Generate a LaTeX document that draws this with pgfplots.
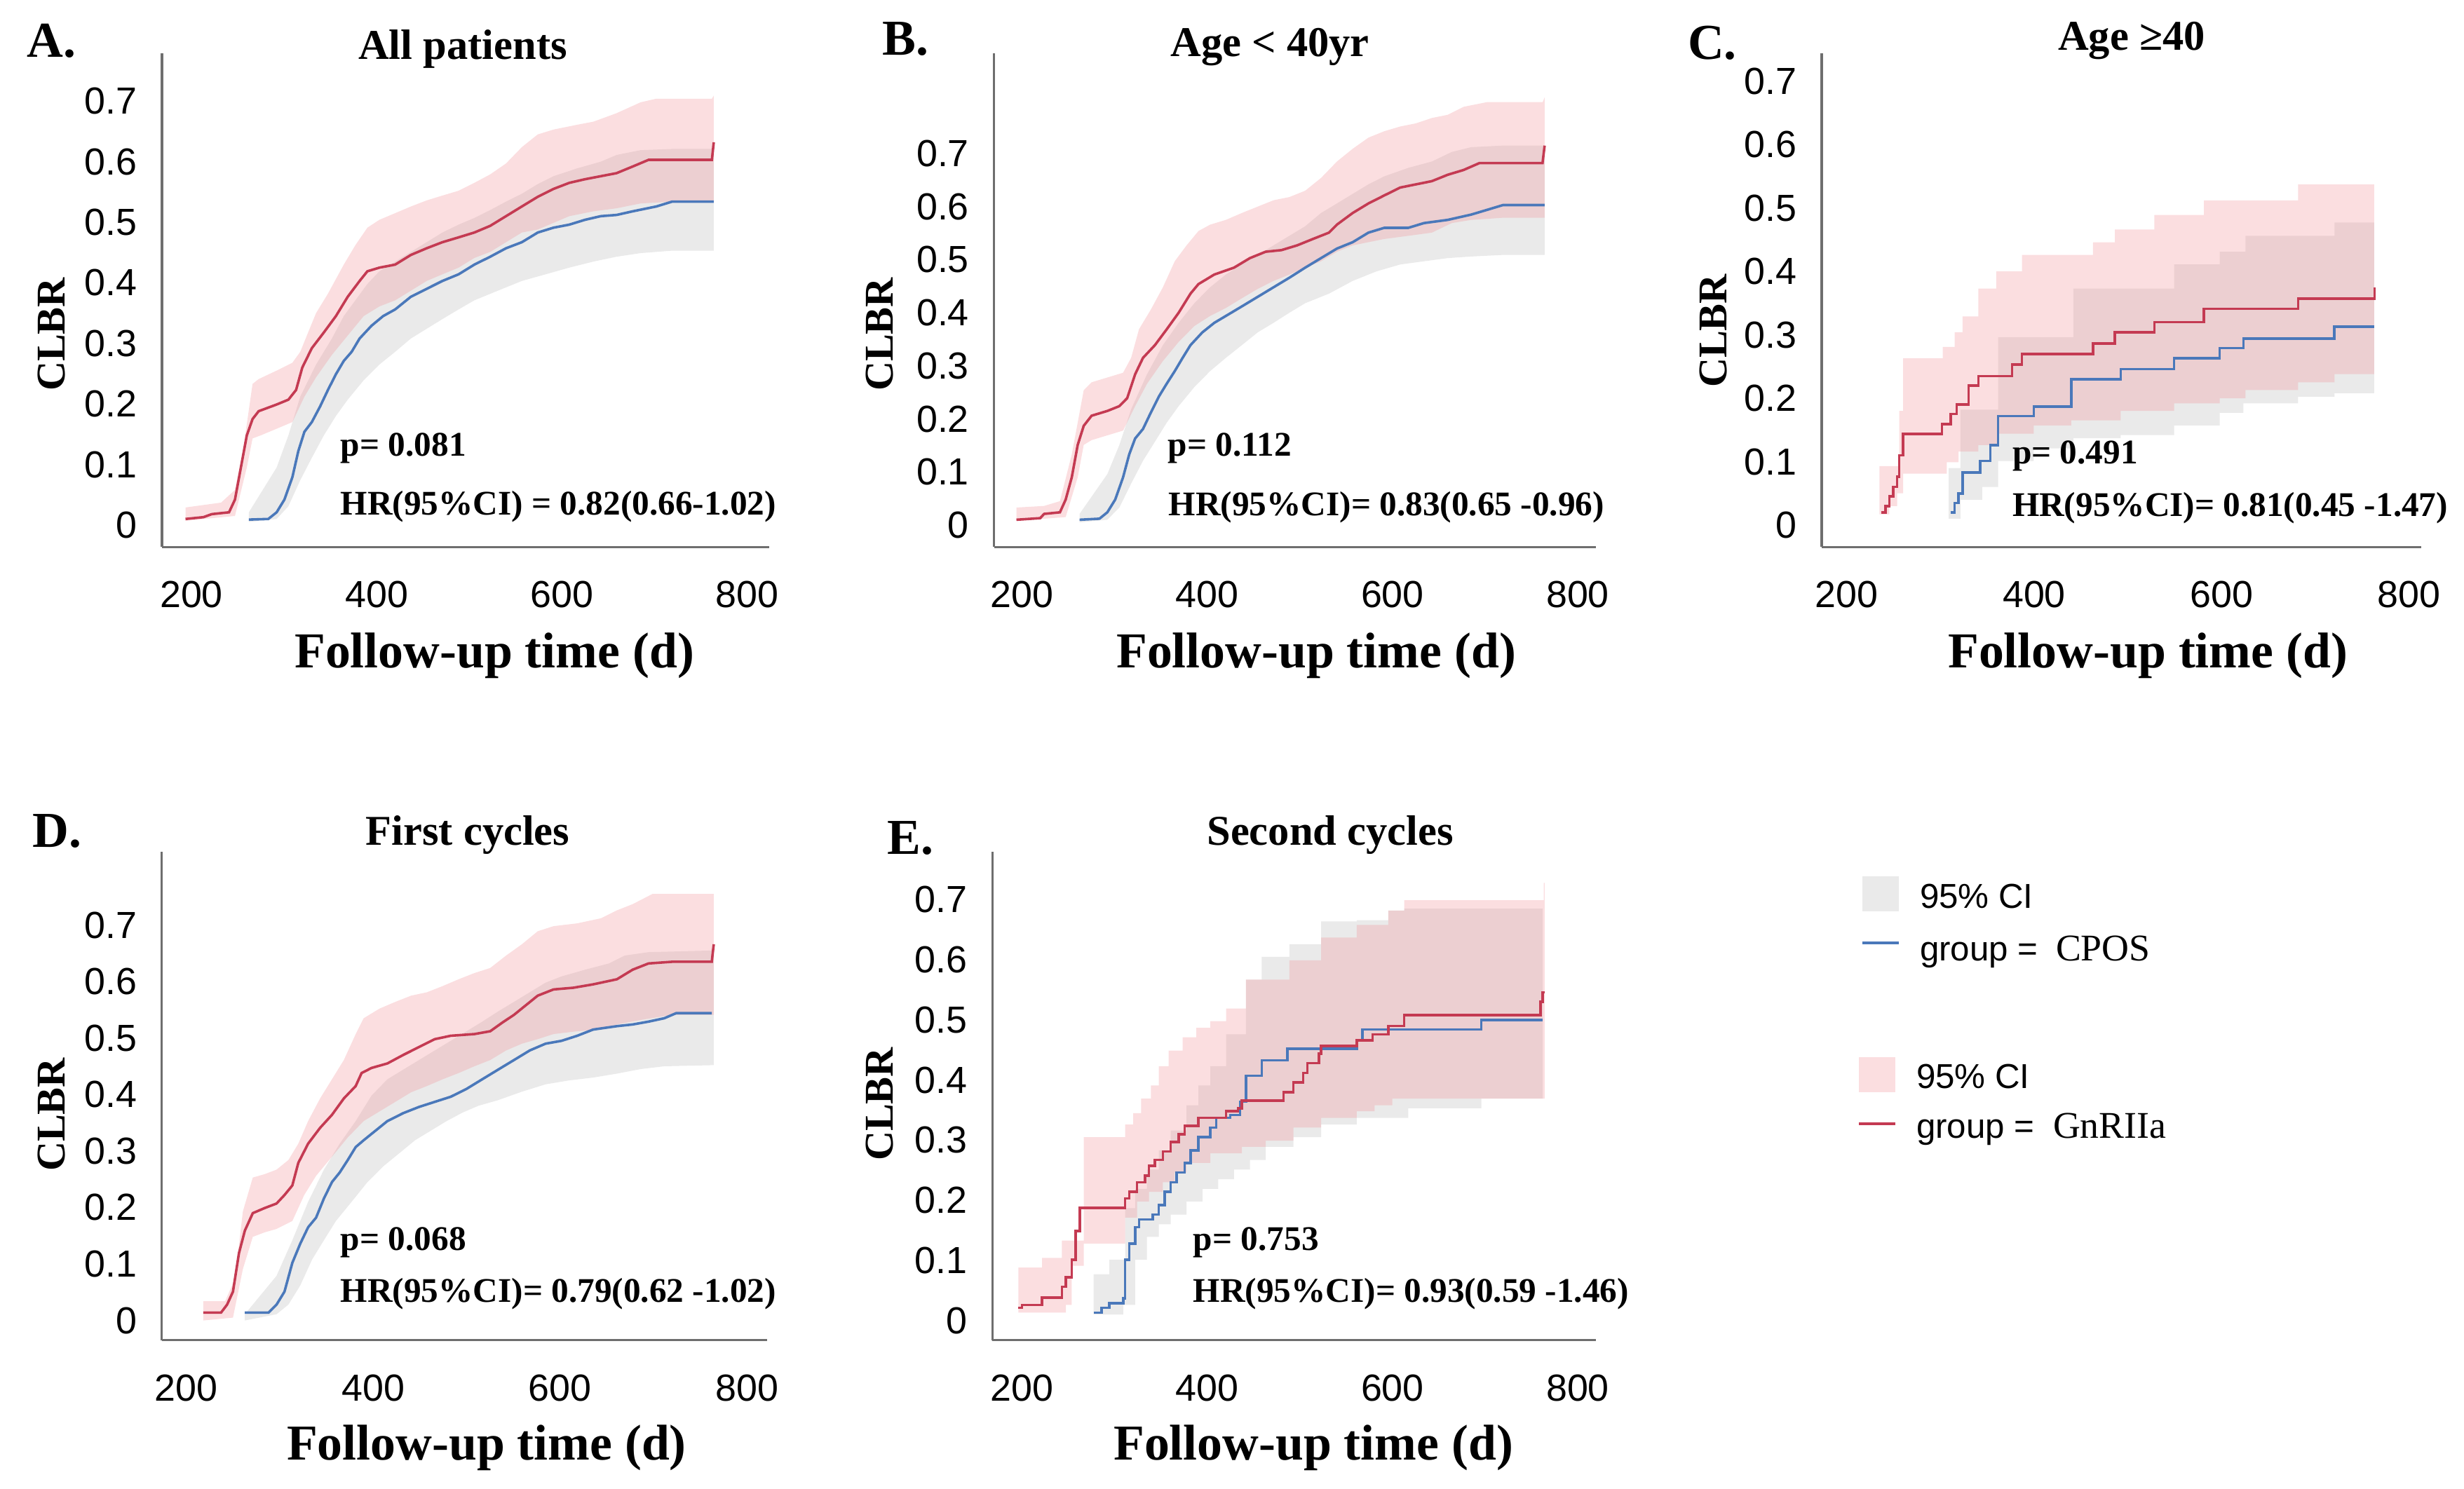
\documentclass[border=0pt]{standalone}
\usepackage{fontspec}
\setmainfont{Liberation Serif}
\newfontfamily\arialfont{Liberation Sans}
\usepackage{pgfplots}
\pgfplotsset{compat=1.18}
\usepgfplotslibrary{fillbetween}

\definecolor{redline}{RGB}{196,58,82}
\definecolor{blueline}{RGB}{74,120,186}
\definecolor{pinkfill}{RGB}{242,145,152}
\definecolor{pinklegend}{RGB}{251,222,224}
\definecolor{greyfill}{RGB}{234,234,234}
\definecolor{axisgray}{RGB}{110,110,110}

\pgfplotsset{
 km/.style={
  scale only axis,
  axis x line=bottom, axis y line=left,
  axis line style={-, draw=axisgray, line width=0.7pt},
  major tick length=0pt, tick style={draw=none},
  xtick={200,400,600,800}, xticklabels={200,400,600,800},
  ytick={0,0.1,0.2,0.3,0.4,0.5,0.6,0.7},
  yticklabels={0,0.1,0.2,0.3,0.4,0.5,0.6,0.7},
  ticklabel style={font=\arialfont\fontsize{12}{14}\selectfont, inner sep=0pt},
  /pgf/number format/assume math mode=true,
  xticklabel style={anchor=north, yshift=-10.7pt},
  yticklabel style={anchor=east, xshift=-7.8pt},
 },
 gband/.style={fill=greyfill, draw=none},
 pband/.style={fill=pinkfill, fill opacity=0.3, draw=none},
 bl/.style={blueline, line width=0.8pt},
 rl/.style={redline, line width=0.8pt},
}

\begin{document}
\begin{tikzpicture}
\path (0,0) rectangle (784.0pt,473.66pt);

% ---------------- A ----------------
\begin{axis}[km, at={(51.54pt,299.53pt)}, width=193.21pt, height=157.18pt,
  xmin=168.2, xmax=823.9, ymin=-0.0365, ymax=0.779]
\addplot[draw=none, name path=Agu] coordinates {(262,0.021) (292,0.095) (304.7,0.148) (317.5,0.212) (334.6,0.265) (351.7,0.308) (364.5,0.345) (377,0.371) (390,0.398) (403,0.419) (420,0.435) (437,0.451) (454,0.467) (471,0.483) (488.5,0.496) (505.5,0.507) (522.6,0.52) (539.7,0.534) (556.8,0.547) (574,0.563) (591,0.576) (616.7,0.589) (642,0.6) (659,0.611) (685,0.619) (719,0.621) (764,0.621)};
\addplot[draw=none, name path=Agl] coordinates {(262,0.005) (292,0.01) (304.7,0.031) (317.5,0.074) (330,0.111) (343,0.148) (356,0.18) (368.8,0.207) (386,0.239) (403,0.265) (420,0.286) (437,0.308) (454,0.324) (471,0.34) (488.5,0.356) (505.5,0.371) (531,0.387) (556.8,0.403) (582.5,0.414) (608,0.425) (634,0.435) (659,0.443) (685,0.449) (719,0.453) (764,0.453)};
\addplot[gband] fill between[of=Agu and Agl];
\addplot[draw=none, name path=Apu] coordinates {(193.6,0.029) (232,0.037) (247,0.058) (255.6,0.122) (266,0.233) (272.6,0.241) (292,0.255) (309,0.268) (317.5,0.286) (326,0.318) (334.6,0.35) (347.4,0.382) (364.5,0.43) (377,0.462) (390,0.491) (403,0.504) (420,0.515) (437,0.526) (454,0.536) (471,0.544) (488.5,0.552) (505.5,0.565) (522.6,0.579) (539.7,0.597) (556.8,0.624) (574,0.645) (591,0.653) (616.7,0.661) (634,0.666) (659,0.68) (685,0.698) (702,0.704) (762,0.704) (764,0.709)};
\addplot[draw=none, name path=Apl] coordinates {(193.6,0.007) (247,0.015) (259.8,0.095) (266,0.143) (274.8,0.148) (292,0.159) (309,0.17) (322,0.212) (334.6,0.244) (351.7,0.281) (368.8,0.313) (386,0.345) (403,0.361) (420,0.371) (437,0.387) (454,0.403) (471,0.414) (488.5,0.425) (505.5,0.441) (522.6,0.451) (539.7,0.467) (556.8,0.483) (574,0.488) (591,0.499) (608,0.51) (634,0.518) (659,0.523) (685,0.531) (719,0.534) (764,0.534)};
\addplot[pband] fill between[of=Apu and Apl];
\addplot[bl] coordinates {(262,0.009) (283,0.01) (292,0.021) (300.4,0.042) (309,0.079) (315.4,0.122) (322,0.154) (330,0.17) (339,0.196) (347.4,0.223) (356,0.249) (364.5,0.271) (373,0.286) (381.6,0.308) (394.4,0.329) (407,0.345) (420,0.356) (437,0.377) (454,0.39) (471,0.403) (488.5,0.414) (505.5,0.43) (522.6,0.443) (539.7,0.457) (556.8,0.467) (574,0.483) (591,0.491) (608,0.496) (625,0.504) (642,0.51) (659,0.512) (676.5,0.518) (702,0.526) (719,0.534) (764,0.534)};
\addplot[rl] coordinates {(193.6,0.010) (213,0.013) (222,0.018) (240.6,0.021) (247,0.042) (253.4,0.095) (259.8,0.148) (266,0.175) (272.6,0.188) (292,0.199) (304.7,0.207) (313,0.223) (319.7,0.26) (330,0.292) (343,0.318) (356,0.345) (368.8,0.377) (381.6,0.403) (390,0.419) (403,0.425) (420,0.43) (437,0.446) (454,0.457) (471,0.467) (488.5,0.475) (505.5,0.483) (522.6,0.494) (539.7,0.51) (556.8,0.526) (574,0.542) (591,0.555) (608,0.565) (625,0.571) (642,0.576) (659,0.581) (676.5,0.592) (693.6,0.603) (762,0.603) (764,0.632)};
\end{axis}

% ---------------- B ----------------
\begin{axis}[km, at={(316.30pt,299.53pt)}, width=191.50pt, height=157.18pt,
  xmin=169.7, xmax=819.7, ymin=-0.0416, ymax=0.889]
\addplot[draw=none, name path=Bgu] coordinates {(262,0.021) (292,0.096) (305,0.151) (317.7,0.218) (334.8,0.284) (352,0.339) (369,0.381) (386,0.418) (403,0.448) (420,0.472) (437,0.491) (454.4,0.509) (471.5,0.527) (488.6,0.545) (505.7,0.563) (522.8,0.588) (540,0.606) (557,0.624) (574,0.642) (591,0.657) (617,0.673) (642.5,0.685) (664,0.703) (685,0.712) (719,0.715) (764.3,0.715)};
\addplot[draw=none, name path=Bgl] coordinates {(262,0.005) (292,0.010) (305,0.033) (317.7,0.078) (330.5,0.121) (343.4,0.157) (356.2,0.193) (369,0.224) (386,0.26) (403,0.29) (420,0.315) (437.3,0.339) (454.4,0.363) (471.5,0.381) (488.6,0.4) (505.7,0.418) (531.4,0.436) (557,0.46) (582.7,0.478) (608.4,0.491) (634,0.497) (659.6,0.503) (685,0.506) (719.4,0.509) (764.3,0.509)};
\addplot[gband] fill between[of=Bgu and Bgl];
\addplot[draw=none, name path=Bpu] coordinates {(193.8,0.033) (223.7,0.036) (240.8,0.045) (253.6,0.133) (266.5,0.254) (275,0.269) (292,0.278) (309,0.287) (317.7,0.315) (326.2,0.369) (339,0.406) (352,0.448) (364.8,0.497) (377.6,0.527) (390.4,0.554) (403,0.566) (420,0.575) (437.3,0.588) (454.4,0.6) (471.5,0.612) (488.6,0.618) (505.7,0.63) (522.8,0.654) (540,0.685) (557,0.709) (574,0.73) (591,0.742) (608.4,0.751) (625.5,0.757) (642.5,0.767) (659.6,0.773) (676.7,0.788) (702.3,0.797) (762.2,0.797) (764.3,0.806)};
\addplot[draw=none, name path=Bpl] coordinates {(193.8,0.008) (247,0.015) (260,0.09) (266.5,0.151) (275,0.16) (292,0.169) (309,0.178) (322,0.224) (334.8,0.266) (352,0.309) (369,0.345) (386,0.375) (403,0.394) (420,0.409) (437,0.427) (454.4,0.445) (471.5,0.46) (488.6,0.472) (505.7,0.485) (522.8,0.497) (540,0.515) (557,0.527) (574,0.533) (591,0.539) (617,0.545) (642.5,0.551) (664,0.569) (685,0.575) (719,0.579) (764.3,0.579)};
\addplot[pband] fill between[of=Bpu and Bpl];
\addplot[bl] coordinates {(262,0.010) (283.5,0.012) (292,0.024) (300.5,0.048) (309,0.09) (315.6,0.133) (322,0.163) (330.5,0.181) (339,0.212) (347.6,0.242) (356,0.266) (364.8,0.29) (373.3,0.315) (381.8,0.339) (394.6,0.363) (407.5,0.381) (420,0.394) (437.3,0.412) (454.4,0.43) (471.5,0.448) (488.6,0.466) (505.7,0.485) (522.8,0.503) (540,0.521) (557,0.533) (574,0.551) (591,0.56) (617,0.56) (634,0.569) (659.6,0.575) (685,0.585) (702.3,0.594) (719.4,0.603) (764.3,0.603)};
\addplot[rl] coordinates {(193.8,0.010) (219.5,0.013) (223.7,0.021) (240.8,0.024) (247,0.048) (253.6,0.09) (260,0.151) (266.5,0.187) (275,0.206) (292,0.215) (304.9,0.224) (313.4,0.239) (322,0.284) (330.5,0.315) (343.4,0.339) (356.2,0.369) (369,0.4) (381.8,0.436) (390.4,0.454) (407.5,0.472) (428.8,0.485) (446,0.503) (463,0.515) (480,0.518) (497,0.527) (514,0.539) (531.4,0.551) (539.9,0.566) (557,0.588) (574,0.606) (591,0.621) (608.4,0.636) (625.5,0.642) (642.5,0.648) (659.6,0.66) (676.7,0.669) (693.8,0.682) (762,0.682) (764.3,0.715)};
\end{axis}

% ---------------- C ----------------
\begin{axis}[km, at={(579.64pt,299.53pt)}, width=190.76pt, height=157.18pt,
  xmin=173.4, xmax=812.9, ymin=-0.0348, ymax=0.744]
\addplot[const plot, draw=none, name path=Cgu] coordinates {(308.8,0.09) (321.4,0.182) (361.5,0.296) (441.7,0.373) (549.3,0.411) (597.9,0.431) (625.3,0.456) (720.3,0.477) (762.6,0.477)};
\addplot[const plot, draw=none, name path=Cgl] coordinates {(308.8,0.010) (321.4,0.040) (344.6,0.060) (361.5,0.101) (399.5,0.121) (441.7,0.137) (492.3,0.142) (549.3,0.157) (597.9,0.177) (623.2,0.192) (681.5,0.2025) (720.3,0.208) (762.6,0.208)};
\addplot[gband] fill between[of=Cgu and Cgl];
\addplot[const plot, draw=none, name path=Cpu] coordinates {(235,0.093) (256,0.18) (260.2,0.263) (302.5,0.281) (315.1,0.304) (323.5,0.329) (340.5,0.373) (359.4,0.400) (386.9,0.426) (462.8,0.446) (486,0.466) (528.2,0.489) (581,0.512) (681.5,0.537) (762.6,0.537)};
\addplot[const plot, draw=none, name path=Cpl] coordinates {(235,0.017) (245.5,0.030) (253.9,0.050) (260.2,0.081) (306.7,0.099) (319.3,0.116) (340.5,0.126) (361.5,0.144) (399.5,0.157) (439.6,0.165) (492.3,0.18) (549.3,0.192) (597.9,0.2) (625.3,0.213) (681.5,0.225) (720.3,0.238) (762.6,0.238)};
\addplot[pband] fill between[of=Cpu and Cpl];
\addplot[bl, const plot] coordinates {(310.9,0.020) (315.1,0.035) (319.3,0.050) (323.5,0.083) (342.5,0.101) (353.1,0.126) (361.5,0.172) (399.5,0.187) (439.6,0.230) (492.3,0.246) (549.3,0.263) (597.9,0.279) (623.2,0.294) (720.3,0.313) (762.6,0.313)};
\addplot[rl, const plot] coordinates {(237,0.020) (241.2,0.030) (245.5,0.045) (249.7,0.060) (253.9,0.076) (256,0.11) (260.2,0.144) (301.6,0.159) (311,0.175) (317.2,0.190) (330,0.220) (340.5,0.235) (376.3,0.253) (386.9,0.270) (462.8,0.286) (486,0.304) (528.2,0.320) (581,0.341) (681.5,0.357) (762.6,0.357) (763,0.375)};
\end{axis}

% ---------------- D ----------------
\begin{axis}[km, at={(51.49pt,47.14pt)}, width=192.59pt, height=155.49pt,
  xmin=174, xmax=821.5, ymin=-0.0349, ymax=0.830]
\addplot[draw=none, name path=Dgu] coordinates {(262.8,0.011) (296.7,0.079) (313.6,0.142) (330.5,0.21) (347.4,0.267) (364.3,0.313) (381.4,0.353) (398.3,0.398) (415.3,0.427) (432.2,0.444) (449.1,0.461) (466,0.478) (483,0.495) (500,0.512) (516.8,0.529) (533.7,0.547) (550.7,0.564) (567.6,0.581) (584.5,0.598) (601.5,0.609) (626.9,0.621) (652.3,0.632) (669.2,0.646) (694.6,0.652) (764.4,0.655)};
\addplot[draw=none, name path=Dgl] coordinates {(262.8,0.0) (296.7,0.011) (309.4,0.028) (322.1,0.062) (334.8,0.108) (347.4,0.142) (360.2,0.176) (377,0.21) (394,0.245) (411,0.273) (428,0.296) (444.9,0.319) (461.8,0.336) (478.7,0.353) (495.7,0.368) (512.6,0.38) (533.7,0.39) (559.2,0.405) (584.5,0.418) (609.9,0.425) (635.4,0.43) (660.8,0.437) (686.2,0.445) (711.5,0.45) (764.4,0.452)};
\addplot[gband] fill between[of=Dgu and Dgl];
\addplot[draw=none, name path=Dpu] coordinates {(218.4,0.034) (241.7,0.034) (252.3,0.074) (260.7,0.193) (271.3,0.253) (284,0.259) (296.7,0.267) (309.4,0.284) (320,0.313) (330.5,0.353) (343.3,0.393) (356,0.427) (368.7,0.461) (381.4,0.507) (389.9,0.535) (406.8,0.552) (423.8,0.564) (440.7,0.575) (457.6,0.581) (474.5,0.592) (491.5,0.604) (508.4,0.615) (525.3,0.624) (542.3,0.646) (559.2,0.666) (576.1,0.689) (593,0.698) (618.4,0.703) (643.8,0.712) (660.8,0.726) (677.7,0.737) (698.8,0.755) (764.4,0.755)};
\addplot[draw=none, name path=Dpl] coordinates {(218.4,0.0) (250.1,0.005) (260.7,0.091) (271.3,0.148) (284,0.156) (296.7,0.162) (313.6,0.176) (326.3,0.222) (339,0.256) (356,0.29) (372.9,0.324) (389.9,0.353) (406.8,0.37) (423.8,0.387) (440.7,0.404) (457.6,0.415) (474.5,0.427) (491.5,0.438) (508.4,0.45) (525.3,0.461) (542.3,0.478) (559.2,0.49) (576.1,0.498) (593,0.507) (618.4,0.512) (643.8,0.515) (660.8,0.524) (686.2,0.532) (720,0.541) (764.4,0.541)};
\addplot[pband] fill between[of=Dpu and Dpl];
\addplot[bl] coordinates {(262.8,0.014) (288.2,0.014) (296.7,0.028) (305.2,0.051) (313.6,0.102) (322.1,0.136) (330.5,0.165) (339,0.182) (347.4,0.216) (356,0.245) (364.3,0.262) (372.9,0.284) (381.4,0.307) (389.9,0.319) (402.6,0.336) (415.3,0.353) (432.2,0.367) (449.1,0.378) (466,0.387) (483,0.396) (500,0.41) (516.8,0.427) (533.7,0.444) (550.7,0.461) (567.6,0.478) (584.5,0.49) (601.5,0.495) (618.4,0.504) (635.4,0.515) (660.8,0.521) (677.7,0.524) (694.6,0.529) (711.5,0.535) (724.2,0.544) (762.3,0.544)};
\addplot[rl] coordinates {(218.4,0.014) (237.4,0.014) (243.8,0.028) (250.1,0.051) (256.5,0.119) (262.8,0.159) (271.3,0.19) (284,0.199) (296.7,0.207) (305.2,0.222) (313.6,0.239) (320,0.279) (330.5,0.313) (343.3,0.341) (356,0.364) (368.7,0.393) (381.4,0.415) (387.7,0.438) (398.3,0.447) (415.3,0.455) (432.2,0.47) (449.1,0.484) (466,0.498) (483,0.504) (508.4,0.507) (525.3,0.512) (538,0.527) (550.7,0.541) (563.4,0.558) (576.1,0.575) (593,0.586) (614.2,0.589) (635.4,0.595) (660.8,0.604) (677.7,0.621) (694.6,0.632) (720,0.635) (762.3,0.635) (764.4,0.666)};
\end{axis}

% ---------------- E ----------------
\begin{axis}[km, at={(315.79pt,47.14pt)}, width=192.01pt, height=155.49pt,
  xmin=168, xmax=819.7, ymin=-0.0328, ymax=0.780]
\addplot[const plot, draw=none, name path=Egu] coordinates {(277.1,0.077) (294.2,0.101) (311.3,0.187) (322,0.219) (334.8,0.251) (347.6,0.283) (360.5,0.316) (377.6,0.358) (390.4,0.391) (403.2,0.423) (420.3,0.476) (441.7,0.567) (458.8,0.605) (488.7,0.626) (522.9,0.664) (561.3,0.666) (595.5,0.682) (612.6,0.685) (762.2,0.685)};
\addplot[const plot, draw=none, name path=Egl] coordinates {(277.1,0.010) (309.2,0.026) (322,0.101) (334.8,0.139) (347.6,0.160) (360.5,0.176) (377.6,0.198) (394.7,0.219) (411.8,0.235) (428.8,0.251) (446,0.267) (463,0.289) (493,0.305) (522.9,0.326) (561.3,0.337) (616.9,0.353) (695.9,0.369) (762.2,0.369)};
\addplot[gband] fill between[of=Egu and Egl];
\addplot[const plot, draw=none, name path=Epu] coordinates {(195.9,0.088) (221.6,0.104) (242.9,0.133) (266.5,0.305) (311.3,0.326) (319.9,0.345) (328.4,0.369) (339.1,0.391) (347.6,0.423) (358.3,0.449) (373.3,0.471) (388.2,0.487) (403.2,0.498) (420.3,0.519) (441.7,0.567) (488.7,0.599) (522.9,0.637) (561.3,0.658) (595.5,0.682) (612.6,0.699) (763.3,0.728) (764.3,0.728)};
\addplot[const plot, draw=none, name path=Epl] coordinates {(195.9,0.013) (247.2,0.026) (253.6,0.091) (266.5,0.128) (311.3,0.171) (324.1,0.198) (337,0.214) (351.9,0.230) (364.7,0.246) (377.6,0.262) (403.2,0.278) (437.4,0.289) (463,0.299) (493,0.321) (522.9,0.337) (561.3,0.348) (580.6,0.358) (599.8,0.369) (764.3,0.369)};
\addplot[pband] fill between[of=Epu and Epl];
\addplot[bl, const plot] coordinates {(277.1,0.013) (285.7,0.021) (294.2,0.029) (309.2,0.037) (311.3,0.101) (315.6,0.128) (322,0.155) (326.3,0.168) (341.2,0.176) (347.6,0.192) (354,0.214) (360.5,0.230) (366.9,0.246) (375.4,0.262) (381.8,0.283) (390.4,0.305) (403.2,0.321) (409.6,0.337) (424.6,0.342) (435.3,0.364) (441.7,0.407) (458.8,0.433) (486.5,0.452) (561.3,0.466) (567.7,0.484) (695.9,0.500) (762.2,0.500)};
\addplot[rl, const plot] coordinates {(195.9,0.021) (200,0.026) (221.6,0.038) (242.9,0.056) (247.2,0.072) (253.6,0.101) (257.9,0.149) (262.2,0.187) (311.3,0.203) (315.6,0.214) (324.1,0.230) (332.7,0.241) (337,0.257) (343.4,0.267) (351.9,0.281) (360.5,0.297) (369,0.310) (375.4,0.324) (390.4,0.337) (420.3,0.348) (433.1,0.353) (437.4,0.366) (482.3,0.380) (493,0.396) (503.6,0.412) (507.9,0.428) (520.7,0.444) (522.9,0.457) (561.3,0.466) (578.4,0.476) (595.5,0.490) (612.6,0.508) (760,0.530) (762.2,0.546) (764.3,0.546)};
\end{axis}

% ---------------- texts (positions in reference pixels) ----------------
\begin{scope}[yshift=473.66pt, x=0.22311pt, y=-0.22311pt]
\tikzset{
 letter/.style={anchor=base west, inner sep=0pt, font=\bfseries\fontsize{16}{19}\selectfont},
 ttl/.style={anchor=base, inner sep=0pt, font=\bfseries\fontsize{13.5}{16}\selectfont},
 yl/.style={anchor=base, rotate=90, inner sep=0pt, font=\bfseries\fontsize{13}{16}\selectfont},
 xl/.style={anchor=base, inner sep=0pt, font=\bfseries\fontsize{16}{19}\selectfont},
 st/.style={anchor=base west, inner sep=0pt, font=\bfseries\fontsize{11}{13}\selectfont},
 lg/.style={anchor=base west, inner sep=0pt, font=\arialfont\fontsize{11}{13}\selectfont},
 lgs/.style={anchor=base west, inner sep=0pt, font=\fontsize{12}{14}\selectfont},
}
% A
\node[letter] at (38,82) {A.};
\node[ttl] at (660,85) {All patients};
\node[yl] at (92,477) {CLBR};
\node[xl] at (705,952) {Follow-up time (d)};
\node[st] at (485,651) {p= 0.081};
\node[st] at (485,734) {HR(95\%CI) = 0.82(0.66-1.02)};
% B
\node[letter] at (1258,79) {B.};
\node[ttl] at (1811,81) {Age < 40yr};
\node[yl] at (1273,477) {CLBR};
\node[xl] at (1877,952) {Follow-up time (d)};
\node[st] at (1665,651) {p= 0.112};
\node[st] at (1666,735) {HR(95\%CI)= 0.83(0.65 -0.96)};
% C
\node[letter] at (2406,85) {C.};
\node[ttl] at (3040,72) {Age ≥40};
\node[yl] at (2462,472) {CLBR};
\node[xl] at (3063,952) {Follow-up time (d)};
\node[st] at (2869,661) {p= 0.491};
\node[st] at (2869,736) {HR(95\%CI)= 0.81(0.45 -1.47)};
% D
\node[letter] at (46,1208) {D.};
\node[ttl] at (667,1205) {First cycles};
\node[yl] at (92,1590) {CLBR};
\node[xl] at (694,2082) {Follow-up time (d)};
\node[st] at (485,1783) {p= 0.068};
\node[st] at (485,1857) {HR(95\%CI)= 0.79(0.62 -1.02)};
% E
\node[letter] at (1265,1218) {E.};
\node[ttl] at (1897,1205) {Second cycles};
\node[yl] at (1273,1575) {CLBR};
\node[xl] at (1873,2082) {Follow-up time (d)};
\node[st] at (1701,1783) {p= 0.753};
\node[st] at (1701,1857) {HR(95\%CI)= 0.93(0.59 -1.46)};
% legend
\fill[greyfill] (2656,1250) rectangle (2708,1300);
\node[lg] at (2737,1295) {95\% CI};
\draw[blueline, line width=1pt] (2656,1345) -- (2708,1345);
\node[lg] at (2737,1370) {group =};
\node[lgs] at (2931,1370) {CPOS};
\fill[pinklegend] (2651,1508) rectangle (2703,1558);
\node[lg] at (2732,1552) {95\% CI};
\draw[redline, line width=1pt] (2651,1603) -- (2703,1603);
\node[lg] at (2732,1623) {group =};
\node[lgs] at (2927,1623) {GnRIIa};
\end{scope}
\pgfresetboundingbox
\path[use as bounding box] (0,0) rectangle (784.0pt,473.66pt);
\end{tikzpicture}
\end{document}
